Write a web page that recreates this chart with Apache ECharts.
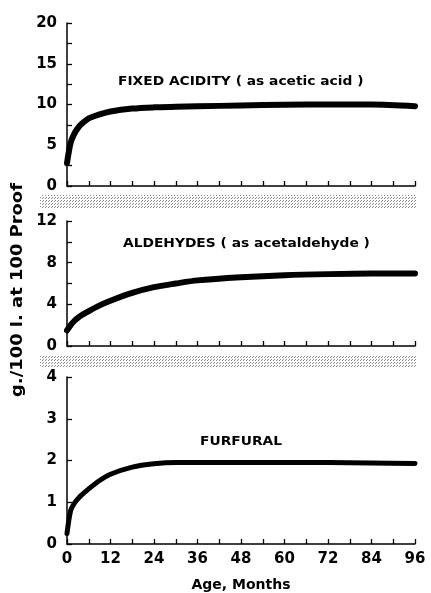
<!DOCTYPE html>
<html>
<head>
<meta charset="utf-8">
<script src="https://cdn.jsdelivr.net/npm/echarts@6/dist/echarts.min.js"></script>
<style>
  html, body { margin: 0; padding: 0; background: #fff; }
  #chart { width: 431px; height: 593px; }
</style>
</head>
<body>
<div id="chart"></div>
<script>
// months along x
const months = [0, 1, 2, 3, 4, 6, 9, 12, 18, 24, 30, 36, 48, 60, 72, 84, 96];
// g./100 l. at 100 proof
const fixedAcidity = [2.8, 5.3, 6.4, 7.1, 7.6, 8.3, 8.8, 9.15, 9.5, 9.65, 9.72, 9.78, 9.88, 9.97, 10.0, 10.0, 9.8];
const aldehydes = [1.5, 2.0, 2.4, 2.7, 2.95, 3.35, 3.9, 4.35, 5.1, 5.65, 6.0, 6.3, 6.6, 6.8, 6.9, 6.95, 6.95];
const furfural = [0.25, 0.8, 0.97, 1.08, 1.17, 1.32, 1.52, 1.67, 1.84, 1.92, 1.95, 1.95, 1.95, 1.95, 1.95, 1.94, 1.93];

const xTicks = [0, 12, 24, 36, 48, 60, 72, 84, 96];
const panelLabels = ['FIXED ACIDITY ( as acetic acid )', 'ALDEHYDES ( as acetaldehyde )', 'FURFURAL'];

const font = 'DejaVu Sans';
const pairs = (vals) => months.map((m, i) => [m, vals[i]]);

// stippled band between panels
const dot = document.createElement('canvas');
dot.width = 3; dot.height = 3;
const dctx = dot.getContext('2d');
dctx.fillStyle = '#fff';
dctx.fillRect(0, 0, 3, 3);
dctx.fillStyle = '#8a8a8a';
dctx.fillRect(0, 0, 1, 1);
dctx.fillRect(1, 2, 1, 1);

const grids = [
  { left: 67, right: 16, top: 23, height: 163 },
  { left: 67, right: 16, top: 221, height: 125 },
  { left: 67, right: 16, top: 377, height: 167 }
];

const xAxisBase = (i) => ({
  type: 'value',
  gridIndex: i,
  min: 0,
  max: 96,
  interval: 6,
  axisLine: { lineStyle: { color: '#000', width: 1.5 } },
  axisTick: { inside: true, length: 5, lineStyle: { color: '#000', width: 1.3 } },
  splitLine: { show: false },
  axisLabel: {
    show: i === 2,
    color: '#000',
    fontFamily: font,
    fontWeight: 'bold',
    fontSize: 15,
    margin: 8,
    formatter: (v) => (xTicks.indexOf(v) >= 0 ? v : '')
  }
});

const yAxisBase = (i, max, step, labelStep) => ({
  type: 'value',
  gridIndex: i,
  min: 0,
  max: max,
  interval: step,
  axisLine: { show: true, lineStyle: { color: '#000', width: 1.5 } },
  axisTick: { show: true, inside: true, length: 5, lineStyle: { color: '#000', width: 1.3 } },
  splitLine: { show: false },
  axisLabel: {
    color: '#000',
    fontFamily: font,
    fontWeight: 'bold',
    fontSize: 15,
    margin: 10,
    formatter: (v) => (Math.abs(v / labelStep - Math.round(v / labelStep)) < 1e-6 ? v : '')
  }
});

const xAxes = [xAxisBase(0), xAxisBase(1), xAxisBase(2)];
xAxes[2].name = 'Age, Months';
xAxes[2].nameLocation = 'middle';
xAxes[2].nameGap = 34;
xAxes[2].nameTextStyle = { color: '#000', fontFamily: font, fontWeight: 'bold', fontSize: 14 };

const lineSeries = (i, vals, w) => ({
  type: 'line',
  xAxisIndex: i,
  yAxisIndex: i,
  data: pairs(vals),
  smooth: 0.3,
  symbol: 'none',
  lineStyle: { color: '#000', width: w, cap: 'round', join: 'round' },
  silent: true
});

// panel captions, stretched a bit to match the wide lettering
const labelText = (x, y, text) => ({
  type: 'text',
  x: x,
  y: y,
  scaleX: 1.2,
  style: { text: text, fill: '#000', font: 'bold 11.5px "' + font + '"', verticalAlign: 'middle' }
});

const option = {
  backgroundColor: '#fff',
  animation: false,
  grid: grids,
  xAxis: xAxes,
  yAxis: [
    yAxisBase(0, 20, 2.5, 5),
    yAxisBase(1, 12, 2, 4),
    yAxisBase(2, 4, 1, 1)
  ],
  series: [
    lineSeries(0, fixedAcidity, 6),
    lineSeries(1, aldehydes, 6),
    lineSeries(2, furfural, 5)
  ],
  graphic: [
    { type: 'rect', shape: { x: 40, y: 195, width: 376, height: 13 }, style: { fill: { image: dot, repeat: 'repeat' } }, silent: true },
    { type: 'rect', shape: { x: 40, y: 356, width: 376, height: 11 }, style: { fill: { image: dot, repeat: 'repeat' } }, silent: true },
    labelText(118, 82, panelLabels[0]),
    labelText(123, 244, panelLabels[1]),
    labelText(200, 442, panelLabels[2]),
    {
      type: 'text',
      x: 18,
      y: 290,
      rotation: Math.PI / 2,
      scaleX: 1.12,
      style: {
        text: 'g./100 l. at 100 Proof',
        fill: '#000',
        font: 'bold 16px "' + font + '"',
        align: 'center',
        verticalAlign: 'middle'
      }
    }
  ]
};

const chart = echarts.init(document.getElementById('chart'), null, { renderer: 'canvas' });
chart.setOption(option);
</script>
</body>
</html>
